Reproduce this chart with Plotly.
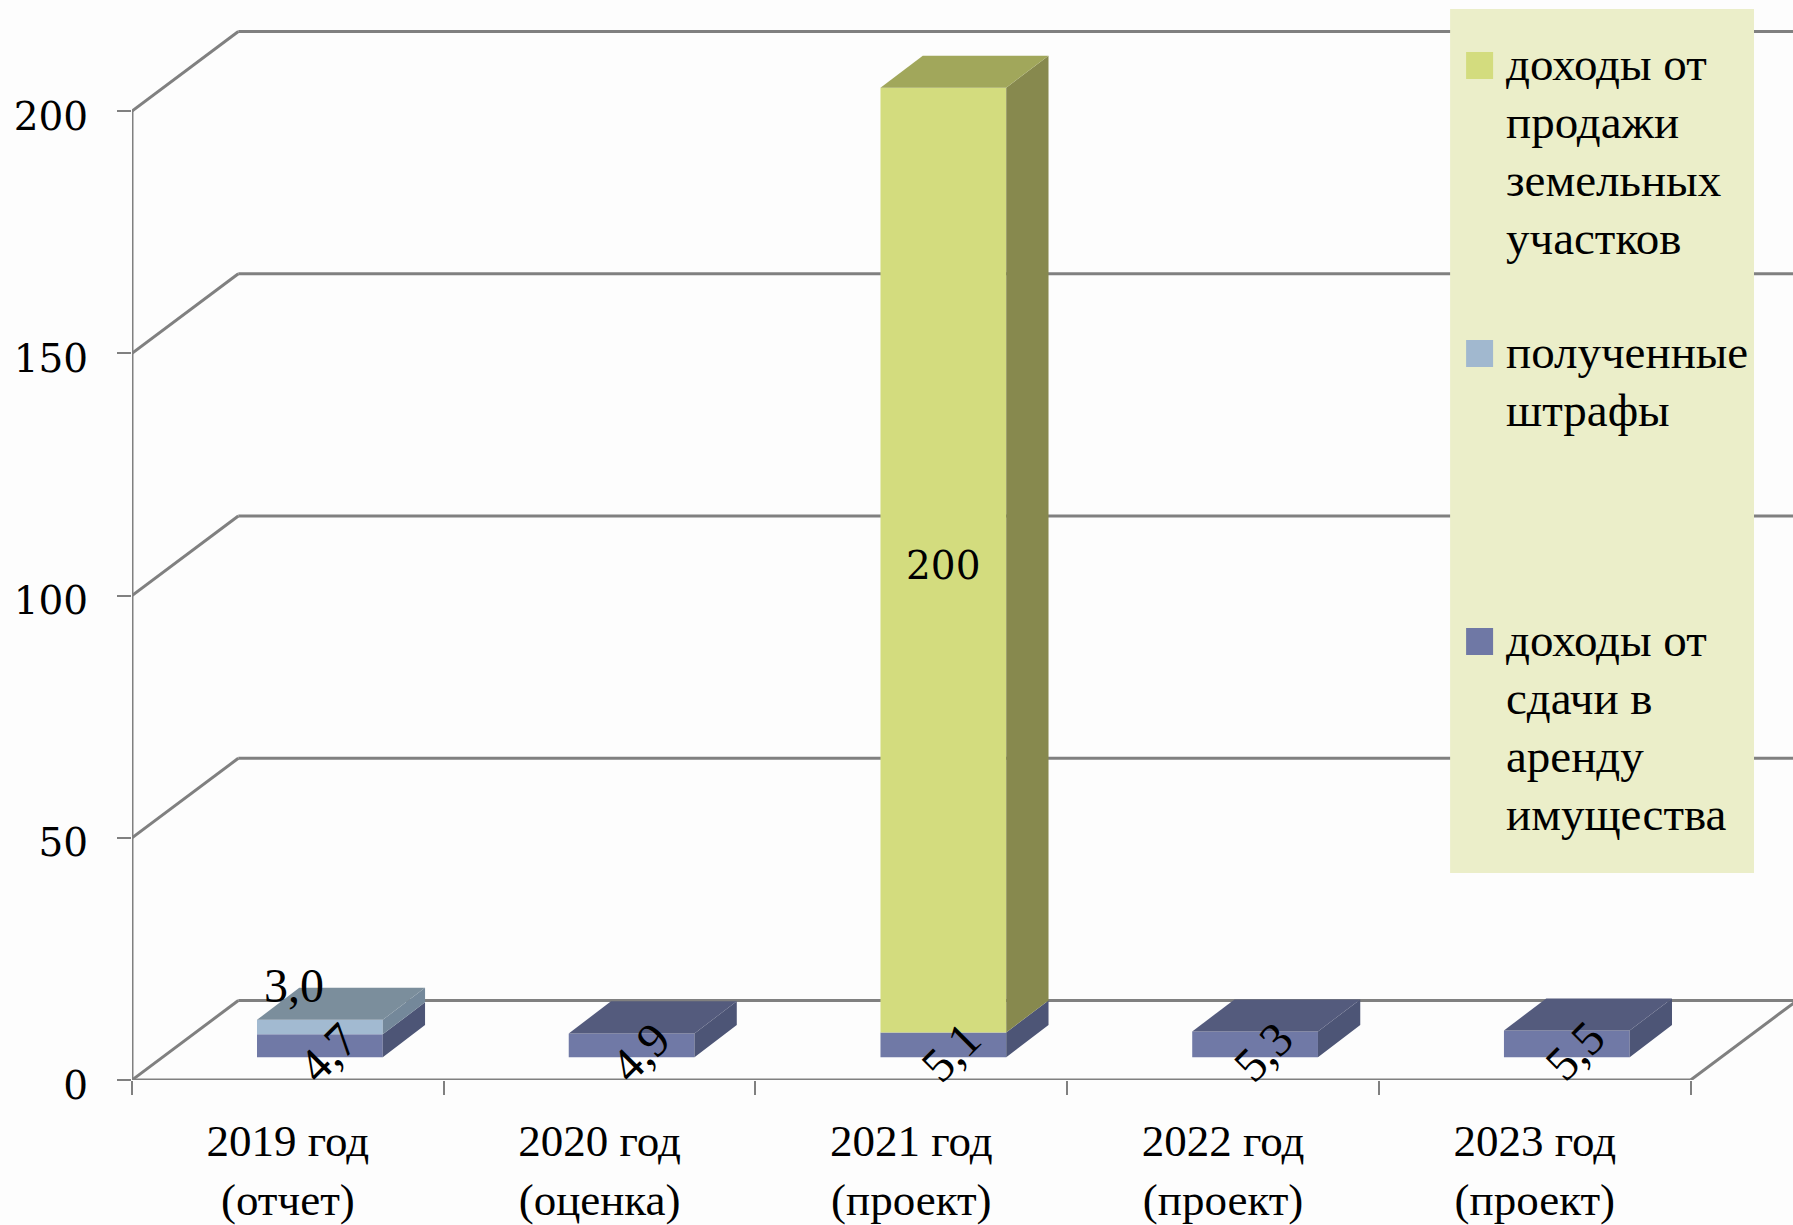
import plotly.graph_objects as go

categories = ["2019 год<br>(отчет)", "2020 год<br>(оценка)", "2021 год<br>(проект)", "2022 год<br>(проект)", "2023 год<br>(проект)"]
rent = [4.7, 4.9, 5.1, 5.3, 5.5]
fines = [3.0, 0, 0, 0, 0]
land = [0, 0, 195, 0, 0]
rent_labels = ["4,7", "4,9", "5,1", "5,3", "5,5"]
fines_labels = ["3,0", "", "", "", ""]
land_labels = ["", "", "200", "", ""]
y_ticks = [0, 50, 100, 150, 200]
legend_land = ["доходы от", "продажи", "земельных", "участков"]
legend_fines = ["полученные", "штрафы"]
legend_rent = ["доходы от", "сдачи в", "аренду", "имущества"]

W, H = 1793, 1225
S = W / 1568
FONT = "Liberation Serif"
NUM_FONT = "DejaVu Serif"
AX = "#808080"
L, B = 115 * S, 944.5 * S        # pixel position of the front axis corner
CAT = 272.7 * S                  # pixels per category
UNIT = 4.237 * S                 # pixels per y unit
X_MIN, X_MAX = -0.5, -0.5 + (W - L) / CAT
Y_MAX = B / UNIT
px_x = lambda p: p / CAT
px_y = lambda p: p / UNIT

WALL_X, WALL_Y = px_x(93 * S), px_y(69.5 * S)
BAR_X, BAR_Y = px_x(28 * S), px_y(20 * S)
BAR_W = px_x(110 * S)
D_X, D_Y = px_x(37 * S), px_y(28 * S)

series = [
    ("доходы от сдачи в аренду имущества", rent, "#7079A6", "#4D5576", "#545B7D"),
    ("полученные штрафы", fines, "#A2BAD1", "#74889A", "#7B8E9C"),
    ("доходы от продажи земельных участков", land, "#D3DC7E", "#87894E", "#A1A75B"),
]

fig = go.Figure()
xc = [i + BAR_X for i in range(len(categories))]
bases = [BAR_Y] * len(categories)
tops_all = []
for name, vals, front, side, top in series:
    fig.add_trace(go.Bar(
        x=xc, y=[v if v else None for v in vals], base=bases, width=BAR_W, name=name,
        marker=dict(color=front, line=dict(width=0)), showlegend=False, hoverinfo="skip"))
    sx, sy = [], []
    for c, b, v in zip(xc, bases, vals):
        if v:
            r = c + BAR_W / 2
            sx += [r, r + D_X, r + D_X, r, r, None]
            sy += [b, b + D_Y, b + v + D_Y, b + v, b, None]
    fig.add_trace(go.Scatter(x=sx, y=sy, fill="toself", fillcolor=side, mode="none",
                             showlegend=False, hoverinfo="skip"))
    tops_all.append((vals, top))
    bases = [b + v for b, v in zip(bases, vals)]

# top faces: colour of the highest non-empty segment
for i, c in enumerate(xc):
    t = BAR_Y
    col = None
    for vals, top in tops_all:
        if vals[i]:
            t += vals[i]
            col = top
    l, r = c - BAR_W / 2, c + BAR_W / 2
    fig.add_trace(go.Scatter(x=[l, r, r + D_X, l + D_X, l], y=[t, t, t + D_Y, t + D_Y, t],
                             fill="toself", fillcolor=col, mode="none",
                             showlegend=False, hoverinfo="skip"))

# axis lines
fig.add_trace(go.Scatter(x=[X_MIN, X_MIN, 4.5], y=[y_ticks[-1], 0, 0], mode="lines",
                         line=dict(color=AX, width=3), showlegend=False, hoverinfo="skip",
                         cliponaxis=False))

shapes = []
line = dict(color=AX, width=3)
for v in y_ticks:
    shapes.append(dict(type="line", xref="x", yref="y", layer="below", line=line,
                       x0=X_MIN, y0=v, x1=X_MIN + WALL_X, y1=v + WALL_Y))
    shapes.append(dict(type="line", xref="x", yref="y", layer="below", line=line,
                       x0=X_MIN + WALL_X, y0=v + WALL_Y, x1=X_MAX, y1=v + WALL_Y))
shapes.append(dict(type="line", xref="x", yref="y", layer="below", line=line,
                   x0=4.5, y0=0, x1=4.5 + WALL_X, y1=WALL_Y))


def paper(x, y):
    return (x - L) / (W - L), (B - y) / B


def rect(x0, y0, x1, y1, color):
    ax0, ay0 = paper(x0, y0)
    ax1, ay1 = paper(x1, y1)
    return dict(type="rect", xref="paper", yref="paper", layer="above", line=dict(width=0),
                fillcolor=color, x0=ax0, x1=ax1, y0=ay0, y1=ay1)


shapes.append(rect(1450, 9, 1754, 873, "#EBEEC9"))
legend_items = [(legend_land, "#D3DC7E", 52), (legend_fines, "#A1B8CF", 340), (legend_rent, "#6F78A5", 628)]
annotations = []
for lines, color, ytop in legend_items:
    shapes.append(rect(1466, ytop, 1493, ytop + 27, color))
    for k, txt in enumerate(lines):
        ax, ay = paper(1504, ytop + 12 + k * 58)
        annotations.append(dict(text=txt, xref="paper", yref="paper", x=ax, y=ay, xanchor="left",
                                yanchor="middle", showarrow=False,
                                font=dict(family=FONT, size=47, color="black")))

# data labels
LF = dict(family=FONT, size=48, color="black")
for i, c in enumerate(xc):
    annotations.append(dict(text=rent_labels[i], x=c, y=BAR_Y + rent[i] / 2, xref="x", yref="y",
                            textangle=-45, showarrow=False, font=LF, xshift=8, yshift=-7))
    if fines_labels[i]:
        annotations.append(dict(text=fines_labels[i], x=c, y=BAR_Y + rent[i] + fines[i] / 2, xref="x", yref="y",
                                showarrow=False, font=LF, xshift=-26, yshift=42))
    if land_labels[i]:
        annotations.append(dict(text=land_labels[i], x=c, y=BAR_Y + rent[i] + land[i] / 2, xref="x", yref="y",
                                showarrow=False, font=dict(family=NUM_FONT, size=39, color="black"),
                                xshift=0, yshift=-5))

fig.update_layout(
    width=W, height=H, margin=dict(l=L, r=0, t=0, b=H - B, pad=0), autosize=False,
    paper_bgcolor="#FDFDFD", plot_bgcolor="rgba(0,0,0,0)", barmode="overlay",
    shapes=shapes, annotations=annotations, showlegend=False,
    xaxis=dict(range=[X_MIN, X_MAX], tickmode="array", tickvals=list(range(5)), ticktext=categories,
               automargin=False, ticks="", showgrid=False, zeroline=False, showline=False,
               tickfont=dict(family=FONT, size=45, color="black"), ticklabelstandoff=30,
               minor=dict(tickmode="array", tickvals=[i - 0.5 for i in range(6)], ticks="outside",
                          ticklen=14, tickwidth=2, tickcolor=AX, showgrid=False)),
    yaxis=dict(range=[0, Y_MAX], tickmode="array", tickvals=y_ticks, ticks="outside", ticklen=14,
               automargin=False, tickwidth=2, tickcolor=AX, showgrid=False, zeroline=False, showline=False,
               tickfont=dict(family=NUM_FONT, size=39, color="black"), ticklabelstandoff=21,
               ticklabelshift=5),
)
fig.write_html("out.html", config=dict(displayModeBar=False),
               post_script="document.body.style.margin='0';")
